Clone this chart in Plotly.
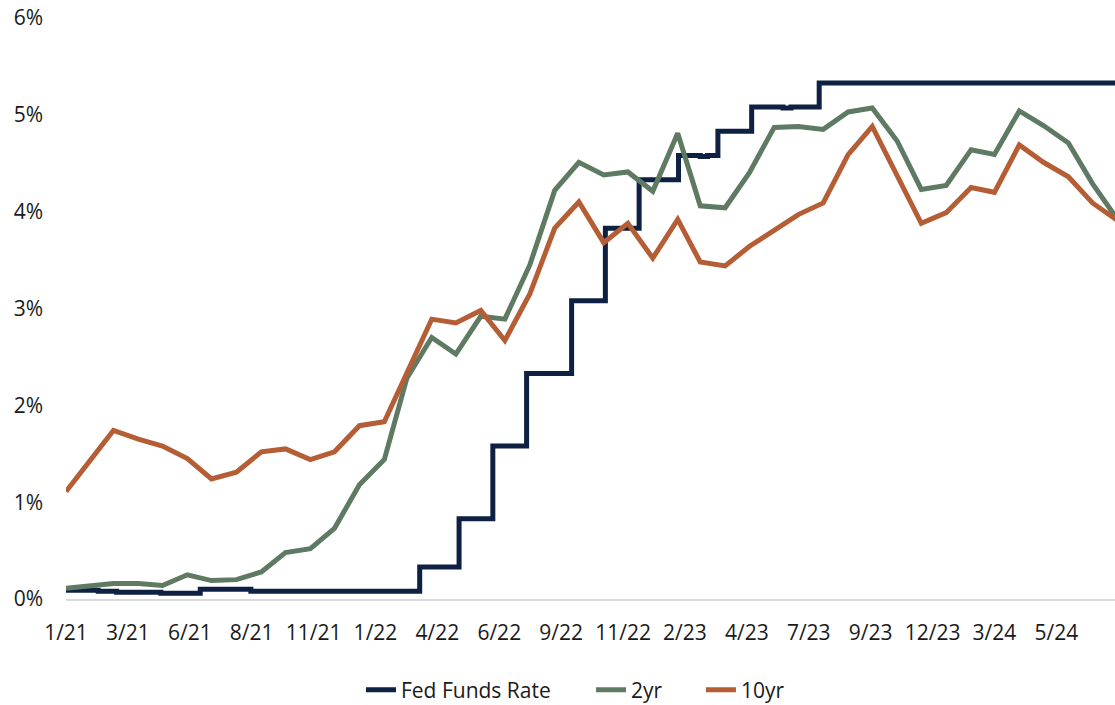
import plotly.graph_objects as go

# Monthly yields (month-end readings, plotted at the start of each month)
yield_months = [
    "2021-01-01", "2021-02-01", "2021-03-01", "2021-04-01", "2021-05-01", "2021-06-01",
    "2021-07-01", "2021-08-01", "2021-09-01", "2021-10-01", "2021-11-01", "2021-12-01",
    "2022-01-01", "2022-02-01", "2022-03-01", "2022-04-01", "2022-05-01", "2022-06-01",
    "2022-07-01", "2022-08-01", "2022-09-01", "2022-10-01", "2022-11-01", "2022-12-01",
    "2023-01-01", "2023-02-01", "2023-03-01", "2023-04-01", "2023-05-01", "2023-06-01",
    "2023-07-01", "2023-08-01", "2023-09-01", "2023-10-01", "2023-11-01", "2023-12-01",
    "2024-01-01", "2024-02-01", "2024-03-01", "2024-04-01", "2024-05-01", "2024-06-01",
    "2024-07-01", "2024-08-01",
]
two_year = [
    0.11, 0.14, 0.16, 0.16, 0.14, 0.25, 0.19, 0.20, 0.28, 0.48, 0.52, 0.73,
    1.18, 1.44, 2.28, 2.70, 2.53, 2.92, 2.89, 3.45, 4.22, 4.51, 4.38, 4.41,
    4.21, 4.81, 4.06, 4.04, 4.40, 4.87, 4.88, 4.85, 5.03, 5.07, 4.73, 4.23,
    4.27, 4.64, 4.59, 5.04, 4.89, 4.71, 4.29, 3.92,
]
ten_year = [
    1.11, 1.44, 1.74, 1.65, 1.58, 1.45, 1.24, 1.31, 1.52, 1.55, 1.44, 1.52,
    1.79, 1.83, 2.32, 2.89, 2.85, 2.98, 2.67, 3.15, 3.83, 4.10, 3.68, 3.88,
    3.52, 3.92, 3.48, 3.44, 3.64, 3.81, 3.97, 4.09, 4.59, 4.88, 4.37, 3.88,
    3.99, 4.25, 4.20, 4.69, 4.51, 4.36, 4.09, 3.91,
]

# Effective fed funds rate, as change dates and the level that holds from then on
fed_dates = [
    "2021-01-01", "2021-02-10", "2021-03-05", "2021-04-29", "2021-06-17", "2021-08-19",
    "2022-03-17", "2022-05-05", "2022-06-16", "2022-07-28", "2022-09-22", "2022-11-03",
    "2022-12-15", "2023-02-02", "2023-03-01", "2023-03-10", "2023-03-23", "2023-05-04",
    "2023-06-12", "2023-06-22", "2023-07-27", "2024-08-01",
]
fed_rate = [
    0.09, 0.08, 0.07, 0.06, 0.10, 0.08,
    0.33, 0.83, 1.58, 2.33, 3.08, 3.83,
    4.33, 4.58, 4.57, 4.58, 4.83, 5.08,
    5.07, 5.08, 5.33, 5.33,
]

tick_dates = [
    "2021-01-01", "2021-03-19", "2021-06-04", "2021-08-20", "2021-11-05", "2022-01-21",
    "2022-04-08", "2022-06-24", "2022-09-09", "2022-11-25", "2023-02-10", "2023-04-28",
    "2023-07-14", "2023-09-29", "2023-12-15", "2024-03-01", "2024-05-17",
]
tick_text = [
    "1/21", "3/21", "6/21", "8/21", "11/21", "1/22", "4/22", "6/22", "9/22",
    "11/22", "2/23", "4/23", "7/23", "9/23", "12/23", "3/24", "5/24",
]

NAVY = "#0F2143"
GREEN = "#5F7A62"
ORANGE = "#B55E35"
FONT = "Open Sans"
FONT_SIZE = 21

fig = go.Figure()
fig.add_trace(go.Scatter(
    x=fed_dates, y=fed_rate, name="Fed Funds Rate", mode="lines",
    line=dict(color=NAVY, width=5, shape="hv"), legend="legend",
))
fig.add_trace(go.Scatter(
    x=yield_months, y=two_year, name="2yr", mode="lines",
    line=dict(color=GREEN, width=5), legend="legend2",
))
fig.add_trace(go.Scatter(
    x=yield_months, y=ten_year, name="10yr", mode="lines",
    line=dict(color=ORANGE, width=5), legend="legend3",
))

legend_style = dict(
    orientation="h", xanchor="left", y=-0.157, yanchor="middle",
    font=dict(family=FONT, size=FONT_SIZE, color="#1a1a1a"),
    bgcolor="rgba(0,0,0,0)", borderwidth=0,
)

fig.update_layout(
    width=1115, height=705,
    margin=dict(l=66, r=0, t=18, b=106, autoexpand=False),
    paper_bgcolor="white", plot_bgcolor="white",
    font=dict(family=FONT, size=FONT_SIZE, color="#1a1a1a"),
    showlegend=True,
    legend=dict(x=0.2812, **legend_style),
    legend2=dict(x=0.5005, **legend_style),
    legend3=dict(x=0.6053, **legend_style),
    xaxis=dict(
        type="date", range=["2021-01-01", "2024-07-29"],
        tickmode="array", tickvals=tick_dates, ticktext=tick_text,
        showgrid=False, zeroline=False, showline=True,
        linecolor="#D9D9D9", linewidth=2, ticks="", ticklabelstandoff=14,
    ),
    yaxis=dict(
        range=[0, 6], dtick=1, ticksuffix="%", tickformat="d",
        showgrid=False, zeroline=False, showline=False,
        ticks="", ticklabelstandoff=22,
    ),
)

fig.write_html("out.html")
